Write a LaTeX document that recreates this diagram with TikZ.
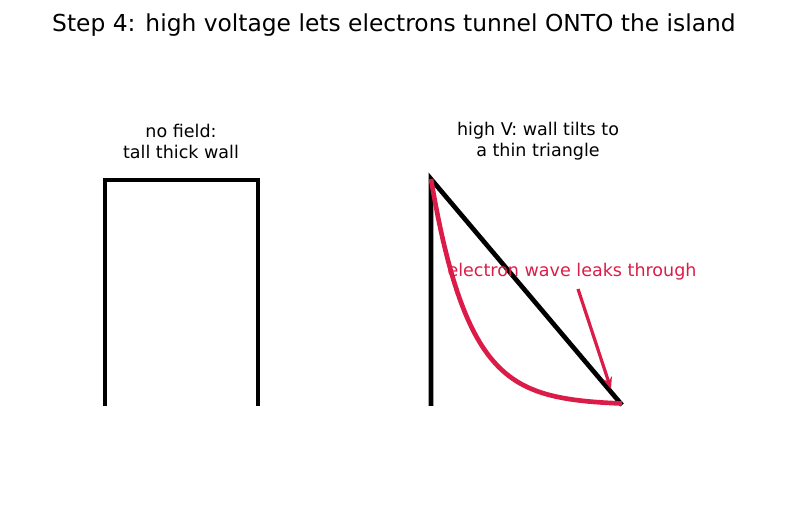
\documentclass[tikz,border=0pt]{standalone}
\usepackage{fontspec}
\setmainfont{DejaVu Sans}
\usetikzlibrary{arrows.meta, positioning}
\definecolor{crimson}{RGB}{220,28,72}

\begin{document}
\begin{tikzpicture}[x=0.685pt, y=-0.685pt,
  wall/.style={line width=3.2pt, black},
  wave/.style={line width=3.2pt, crimson},
  hint/.style={-{Stealth[length=8pt, width=6.5pt]}, line width=2.2pt, crimson},
  lbl/.style={font=\fontsize{12}{14.4}\selectfont, align=center},
  ttl/.style={font=\fontsize{16}{19}\selectfont}
]
  \useasboundingbox (0,0) rectangle (787,510);
  \node[ttl](title) at (394,25) {Step 4: high voltage lets electrons tunnel ONTO the island};
  \node[lbl](nofield) at (181,141) {no field:\\tall thick wall};
  \node[lbl](highv)   at (538,141) {high V: wall tilts to\\a thin triangle};

  % thick wall, no field
  \coordinate (lb) at (105,406);
  \coordinate (rb) at (258,406);
  \draw[wall] (lb) -- (105,180) -- (258,180) -- (rb);

  % tilted wall
  \coordinate (top)  at (431,179);
  \coordinate (base) at (431,406);
  \coordinate (tip)  at (622,405);
  \draw[wall] (base) -- (top) -- (tip);

  % leaking wave
  \draw[wave] plot[domain=431:622, samples=80] (\x, {405-226*exp(-(\x-431)/38)});

  \node[lbl, text=crimson](leak) at (572,272) {electron wave leaks through};
  \coordinate (from) at (578,289);
  \draw[hint] (from) -- (611,389);
\end{tikzpicture}
\end{document}
